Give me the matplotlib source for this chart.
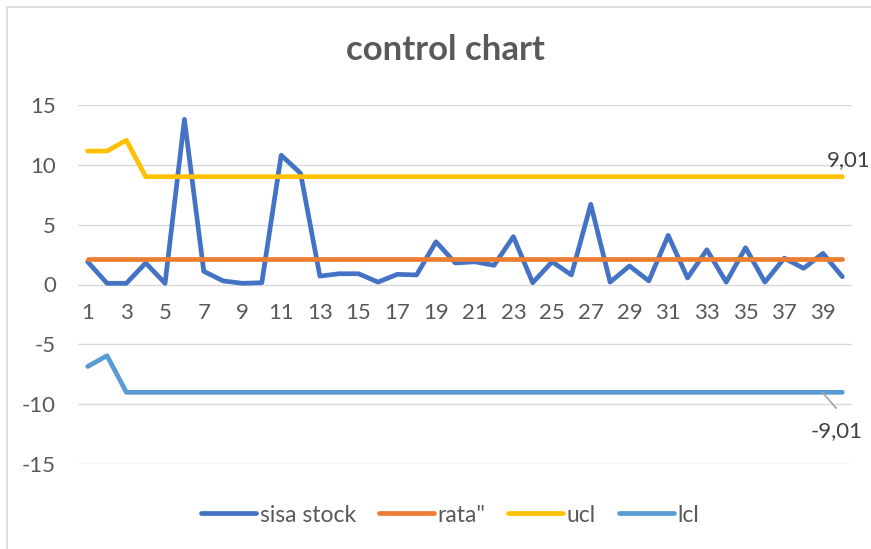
import matplotlib
matplotlib.use("Agg")
import matplotlib.pyplot as plt
from matplotlib.patches import Rectangle
from matplotlib.transforms import offset_copy

# data
periode = list(range(1, 41))
sisa_stock = [1.9, 0.1, 0.1, 1.8, 0.1, 13.8, 1.1, 0.3, 0.1, 0.15,
              10.8, 9.3, 0.7, 0.9, 0.9, 0.2, 0.85, 0.8, 3.57, 1.8,
              1.9, 1.6, 4.0, 0.15, 1.9, 0.8, 6.7, 0.2, 1.55, 0.3,
              4.1, 0.55, 2.9, 0.2, 3.07, 0.2, 2.2, 1.35, 2.6, 0.65]
rata = [2.15] * 40
ucl = [11.15, 11.15, 12.05] + [9.01] * 37
lcl = [-6.85, -5.95] + [-9.01] * 38
x_ticks = list(range(1, 41, 2))
y_ticks = [-15, -10, -5, 0, 5, 10, 15]

plt.rcParams['font.family'] = ['Lato', 'DejaVu Sans']
plt.rcParams['axes.unicode_minus'] = False

W, H = 871, 549
fig = plt.figure(figsize=(W / 100, H / 100), dpi=100)

# chart border (Excel chart area)
fig.add_artist(Rectangle((7 / W, -0.1), 1.2, 1 - 7 / H + 0.1, transform=fig.transFigure,
                         fill=False, edgecolor='#d9d9d9', linewidth=1.2))

ax = fig.add_axes([78 / W, (H - 464) / H, (852 - 78) / W, (464 - 105) / H])

series = [
    (sisa_stock, '#4472C4', 'sisa stock'),
    (rata, '#ED7D31', 'rata"'),
    (ucl, '#FFC000', 'ucl'),
    (lcl, '#5B9BD5', 'lcl'),
]
for vals, col, lab in series:
    ax.plot(periode, vals, color=col, linewidth=3.4, label=lab,
            solid_capstyle='round', solid_joinstyle='round', zorder=3)

ax.set_xlim(0.5, 40.5)
ax.set_ylim(-15, 15)
ax.set_yticks(y_ticks)
ax.set_xticks(x_ticks)
ax.grid(axis='y', color='#d9d9d9', linewidth=1.0, zorder=0)
ax.set_axisbelow(True)

for s in ['top', 'right', 'left']:
    ax.spines[s].set_visible(False)
ax.spines['bottom'].set_position(('data', 0))
ax.spines['bottom'].set_visible(False)
ax.tick_params(axis='both', length=0, labelsize=16, labelcolor='#595959')
ax.tick_params(axis='y', pad=16)
ax.tick_params(axis='x', pad=13)

# data labels
ax.annotate('9,01', xy=(periode[-1], ucl[-1]), xytext=(6, 17), textcoords='offset pixels',
            ha='center', va='center', fontsize=16, color='#404040', annotation_clip=False)
ax.annotate('-9,01', xy=(periode[-1], lcl[-1]), xytext=(-6, -39), textcoords='offset pixels',
            ha='center', va='center', fontsize=16, color='#404040', annotation_clip=False)
ax.annotate('', xy=(periode[-1], lcl[-1]),
            xycoords=offset_copy(ax.transData, fig=fig, x=-6, y=-16, units='dots'),
            xytext=(-14, 16), textcoords='offset pixels',
            arrowprops=dict(arrowstyle='-', color='#a6a6a6', linewidth=1.2,
                            shrinkA=0, shrinkB=0))

fig.text(445 / W, 1 - 50 / H, 'control chart', ha='center', va='center',
         fontsize=25, fontweight='bold', color='#595959')

fig.legend(loc='center', bbox_to_anchor=(450 / W, 1 - 515 / H), ncol=4, frameon=False,
           fontsize=16.5, labelcolor='#595959', handlelength=2.4, handletextpad=0.15,
           columnspacing=1.0)

fig.savefig('out.png', dpi=100)
